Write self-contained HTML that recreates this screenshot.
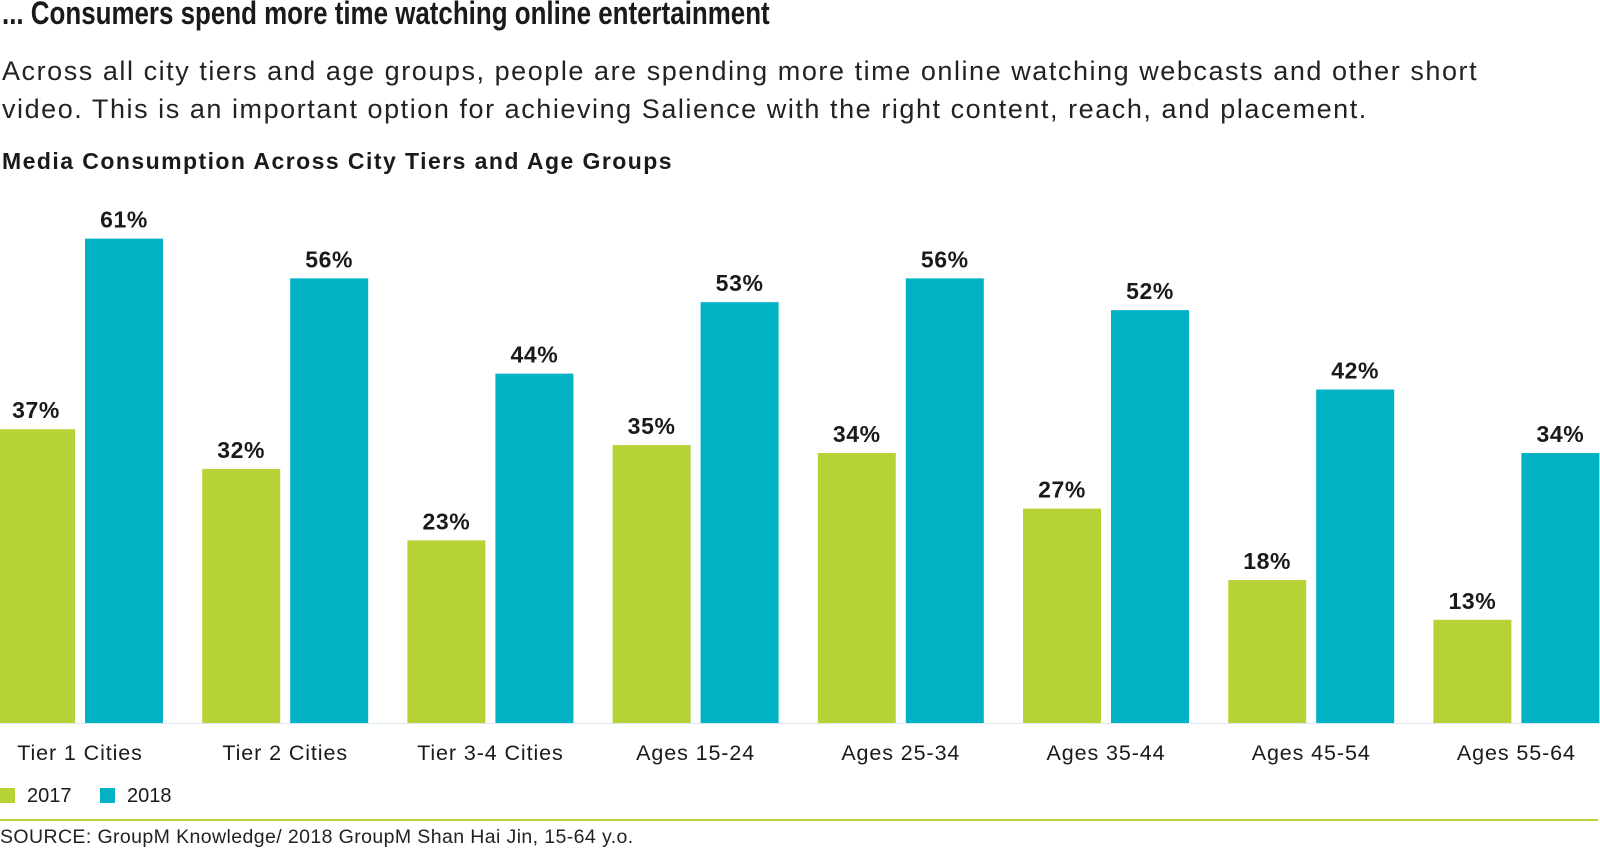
<!DOCTYPE html>
<html><head><meta charset="utf-8"><style>
body{margin:0;width:1600px;height:850px;background:#fff;overflow:hidden;font-family:"Liberation Sans",sans-serif;color:#1a1a1a;position:relative}
.t{position:absolute;white-space:nowrap}
</style></head><body>
<div class="t" style="left:2px;top:-5px;font-weight:bold;font-size:32px;transform:scaleX(0.81);transform-origin:left">... Consumers spend more time watching online entertainment</div>
<div class="t" style="left:2px;top:53px;font-size:27px;letter-spacing:1.55px;line-height:37.5px;color:#222">Across all city tiers and age groups, people are spending more time online watching webcasts and other short<br>video. This is an important option for achieving Salience with the right content, reach, and placement.</div>
<div class="t" style="left:2px;top:148px;font-size:23px;letter-spacing:1.45px;font-weight:bold">Media Consumption Across City Tiers and Age Groups</div>
<svg id="chart" width="1600" height="850" style="position:absolute;left:0;top:0"></svg>
<div class="t" style="left:0;top:785px;font-size:20px"><span style="display:inline-block;width:15px;height:15px;background:#b5d334;margin-right:12px;vertical-align:-1px"></span>2017</div>
<div class="t" style="left:100px;top:785px;font-size:20px"><span style="display:inline-block;width:15px;height:15px;background:#00b2c3;margin-right:12px;vertical-align:-1px"></span>2018</div>
<div style="position:absolute;left:0;top:819px;width:1598px;height:2px;background:#b5d334"></div>
<div class="t" style="left:0;top:826px;font-size:19.5px;letter-spacing:0.4px;color:#222">SOURCE: GroupM Knowledge/ 2018 GroupM Shan Hai Jin, 15-64 y.o.</div>
<script>
const categories=["Tier 1 Cities","Tier 2 Cities","Tier 3-4 Cities","Ages 15-24","Ages 25-34","Ages 35-44","Ages 45-54","Ages 55-64"];
const values2017=[37,32,23,35,34,27,18,13];
const values2018=[61,56,44,53,56,52,42,34];
const svg=document.getElementById('chart');
const NS='http://www.w3.org/2000/svg';
const base=723,scale=7.94,x0=-3,step=205.2,bw=78,gap=10;
const y=v=>base-v*scale;
function bar(x,v,col,name){
  const r=document.createElementNS(NS,'rect');
  r.setAttribute('x',x);r.setAttribute('y',y(v));r.setAttribute('width',bw);r.setAttribute('height',v*scale);r.setAttribute('fill',col);
  
  
  svg.appendChild(r);
  const t=document.createElementNS(NS,'text');
  t.setAttribute('x',x+bw/2);t.setAttribute('y',y(v)-11);t.setAttribute('text-anchor','middle');
  t.setAttribute('font-size','23');t.setAttribute('font-weight','bold');t.setAttribute('fill','#1a1a1a');
  t.setAttribute('letter-spacing','0.6');
  t.setAttribute('font-family','Liberation Sans, sans-serif');
  t.textContent=v+'%';
  
  
  svg.appendChild(t);
}
categories.forEach((c,i)=>{
  const gx=x0+i*step;
  bar(gx,values2017[i],'#b5d334','bar-2017-'+i);
  bar(gx+bw+gap,values2018[i],'#00b2c3','bar-2018-'+i);
  const t=document.createElementNS(NS,'text');
  t.setAttribute('x',gx+bw+gap/2);t.setAttribute('y',760);t.setAttribute('text-anchor','middle');
  t.setAttribute('font-size','21.5');t.setAttribute('letter-spacing','0.9');t.setAttribute('fill','#1a1a1a');t.setAttribute('font-family','Liberation Sans, sans-serif');
  t.textContent=c;
  
  
  svg.appendChild(t);
});
const ax=document.createElementNS(NS,'line');
ax.setAttribute('x1',0);ax.setAttribute('x2',1600);ax.setAttribute('y1',base+0.5);ax.setAttribute('y2',base+0.5);ax.setAttribute('stroke','#dde8ee');


svg.appendChild(ax);
</script>
</body></html>
